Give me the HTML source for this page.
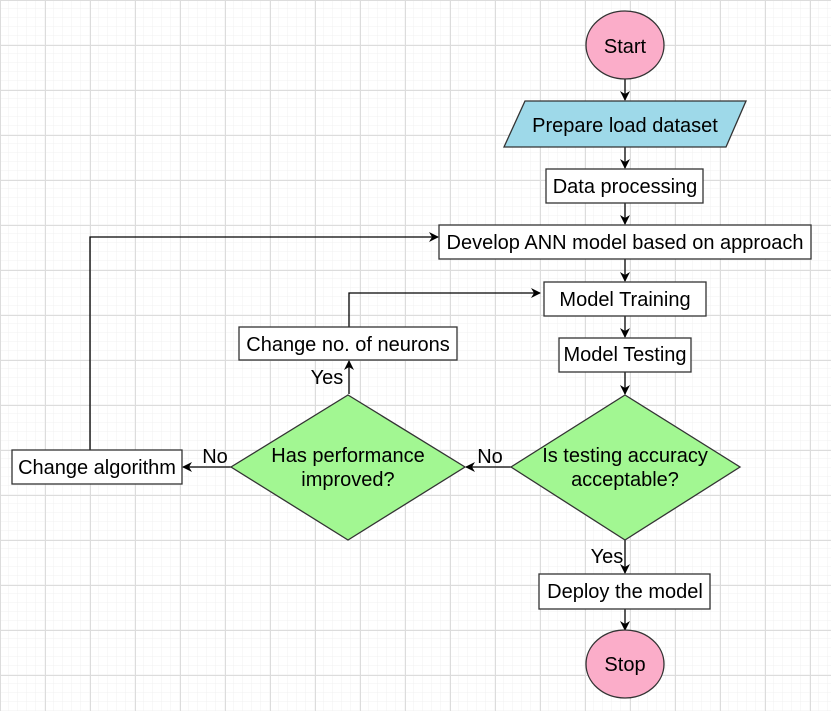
<!DOCTYPE html>
<html><head><meta charset="utf-8"><style>
html,body{margin:0;padding:0;background:#fff;}
svg{display:block;}
text{font-family:"Liberation Sans",Arial,sans-serif;font-size:20px;fill:#000;}
</style></head><body>
<svg width="831" height="711" viewBox="0 0 831 711" xmlns="http://www.w3.org/2000/svg">
<defs>
<pattern id="minor" width="9" height="9" patternUnits="userSpaceOnUse">
<path d="M9 0V9M0 9H9" fill="none" stroke="#f0f0f0" stroke-width="1"/>
</pattern>
<pattern id="major" width="45" height="45" patternUnits="userSpaceOnUse">
<rect width="45" height="45" fill="url(#minor)"/>
<path d="M0.5 0V45M0 0.5H45" fill="none" stroke="#dcdcdc" stroke-width="1"/>
</pattern>
<marker id="a" markerWidth="10" markerHeight="10" refX="9" refY="5" orient="auto" markerUnits="userSpaceOnUse">
<path d="M0,0 L10,5 L0,10 L3,5 Z" fill="#000"/>
</marker>
</defs>
<rect width="831" height="711" fill="url(#major)"/>
<g stroke="#000" stroke-width="1.3" fill="none">
<line x1="625" y1="79" x2="625" y2="100" marker-end="url(#a)"/>
<line x1="625" y1="147" x2="625" y2="168" marker-end="url(#a)"/>
<line x1="625" y1="203" x2="625" y2="224" marker-end="url(#a)"/>
<line x1="625" y1="259" x2="625" y2="281" marker-end="url(#a)"/>
<line x1="625" y1="316" x2="625" y2="337" marker-end="url(#a)"/>
<line x1="625" y1="372" x2="625" y2="394" marker-end="url(#a)"/>
<line x1="625" y1="540" x2="625" y2="573" marker-end="url(#a)"/>
<line x1="625" y1="609" x2="625" y2="630" marker-end="url(#a)"/>
<line x1="511" y1="467" x2="466" y2="467" marker-end="url(#a)"/>
<line x1="231" y1="467" x2="183" y2="467" marker-end="url(#a)"/>
<line x1="349" y1="394" x2="349" y2="361" marker-end="url(#a)"/>
<polyline points="349,327 349,293 540,293" marker-end="url(#a)"/>
<polyline points="90,450 90,237 438,237" marker-end="url(#a)"/>
</g>
<g stroke="#333" stroke-width="1.3">
<ellipse cx="625" cy="45" rx="39" ry="34" fill="#fbadc9"/>
<polygon points="525,101 746,101 726,147 504,147" fill="#9ed9e9"/>
<rect x="546" y="169" width="157" height="34" fill="#fff"/>
<rect x="439" y="225" width="372" height="34" fill="#fff"/>
<rect x="544" y="282" width="162" height="34" fill="#fff"/>
<rect x="559" y="338" width="132" height="34" fill="#fff"/>
<polygon points="625,395 740,467 625,540 511,467" fill="#a2f792"/>
<polygon points="348,395 465,467 348,540 231,467" fill="#a2f792"/>
<rect x="239" y="327" width="218" height="33" fill="#fff"/>
<rect x="12" y="450" width="170" height="34" fill="#fff"/>
<rect x="539" y="574" width="171" height="35" fill="#fff"/>
<ellipse cx="625" cy="664" rx="39" ry="34" fill="#fbadc9"/>
</g>
<g text-anchor="middle">
<text x="625" y="53">Start</text>
<text x="625" y="132">Prepare load dataset</text>
<text x="625" y="193">Data processing</text>
<text x="625" y="249">Develop ANN model based on approach</text>
<text x="625" y="306">Model Training</text>
<text x="625" y="361">Model Testing</text>
<text x="625" y="462">Is testing accuracy</text>
<text x="625" y="486">acceptable?</text>
<text x="348" y="462">Has performance</text>
<text x="348" y="486">improved?</text>
<text x="348" y="351">Change no. of neurons</text>
<text x="97" y="474">Change algorithm</text>
<text x="625" y="598">Deploy the model</text>
<text x="625" y="671">Stop</text>
<text x="490" y="463">No</text>
<text x="215" y="463">No</text>
<text x="327" y="384">Yes</text>
<text x="607" y="563">Yes</text>
</g>
</svg>
</body></html>
